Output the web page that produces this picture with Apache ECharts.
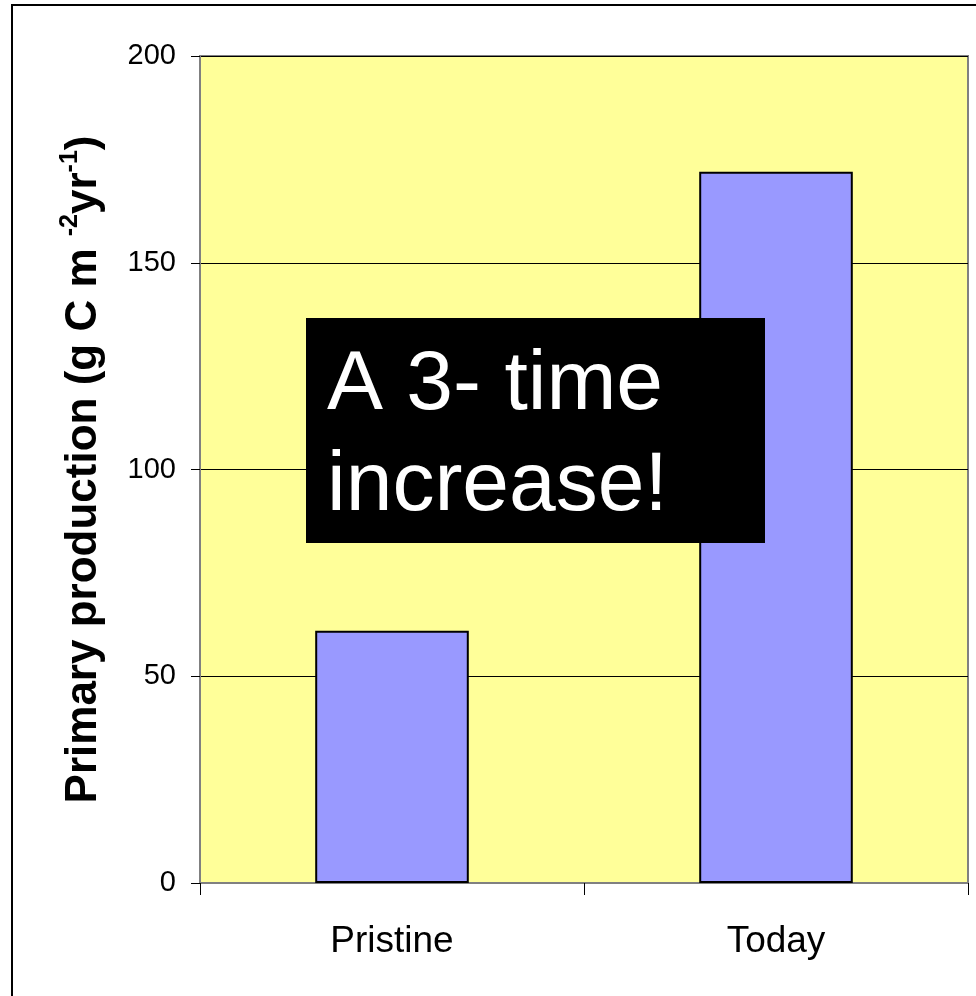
<!DOCTYPE html>
<html>
<head>
<meta charset="utf-8">
<script src="https://cdn.jsdelivr.net/npm/echarts@6/dist/echarts.min.js"></script>
<style>
  html, body { margin: 0; padding: 0; background: #ffffff; }
  #chart { width: 976px; height: 996px; }
</style>
</head>
<body>
<div id="chart"></div>
<script>
// Primary production before and after, in g C m^-2 yr^-1
const categories = ['Pristine', 'Today'];
const production = [61, 172];
const yTicks = [0, 50, 100, 150, 200];
const calloutLines = ['A 3- time', 'increase!'];

const FONT = 'Liberation Sans, Arial, sans-serif';
const chart = echarts.init(document.getElementById('chart'));

chart.setOption({
  backgroundColor: '#ffffff',
  animation: false,
  grid: {
    left: 200, top: 56, right: 8, bottom: 113,
    show: true,
    backgroundColor: '#FFFF99',
    borderColor: '#808080',
    borderWidth: 2
  },
  xAxis: {
    type: 'category',
    data: categories,
    axisLine: { lineStyle: { color: '#808080', width: 2 } },
    axisTick: { show: true, length: 12, lineStyle: { color: '#000000', width: 1 } },
    axisLabel: { color: '#000000', fontSize: 37, margin: 40, fontFamily: FONT }
  },
  yAxis: {
    type: 'value',
    min: yTicks[0],
    max: yTicks[yTicks.length - 1],
    interval: yTicks[1] - yTicks[0],
    name: '{a|Primary production (g C m }{s|-2}{a|yr}{s|-1}{a|)}',
    nameLocation: 'middle',
    nameRotate: 90,
    nameGap: 90,
    nameTextStyle: {
      rich: {
        a: { fontSize: 44, fontWeight: 'bold', color: '#000000', fontFamily: FONT, lineHeight: 52 },
        s: { fontSize: 25, fontWeight: 'bold', color: '#000000', fontFamily: FONT, verticalAlign: 'top', lineHeight: 52 }
      }
    },
    axisLine: { show: true, lineStyle: { color: '#808080', width: 2 } },
    axisTick: { show: true, length: 9, lineStyle: { color: '#000000', width: 1 } },
    axisLabel: { color: '#000000', fontSize: 29, margin: 24, fontFamily: FONT },
    splitLine: { show: true, lineStyle: { color: '#000000', width: 1 } }
  },
  series: [{
    type: 'bar',
    data: production,
    barWidth: '40%',
    itemStyle: { color: '#9999FF', borderColor: '#000000', borderWidth: 2 }
  }],
  graphic: [
    // page frame
    {
      type: 'rect',
      shape: { x: 12, y: 5, width: 1000, height: 1000 },
      style: { fill: 'none', stroke: '#000000', lineWidth: 2 },
      silent: true,
      z: 100
    },
    // callout box drawn above the bars
    {
      type: 'group',
      left: 306, top: 318,
      z: 100,
      children: [
        { type: 'rect', z: 100, shape: { x: 0, y: 0, width: 459, height: 225 }, style: { fill: '#000000' } },
        { type: 'text', z: 101, x: 21, y: 68, style: { text: calloutLines[0], fill: '#ffffff', fontSize: 84, fontFamily: FONT, verticalAlign: 'middle' } },
        { type: 'text', z: 101, x: 21, y: 169, style: { text: calloutLines[1], fill: '#ffffff', fontSize: 84, fontFamily: FONT, verticalAlign: 'middle' } }
      ]
    }
  ]
});
</script>
</body>
</html>
